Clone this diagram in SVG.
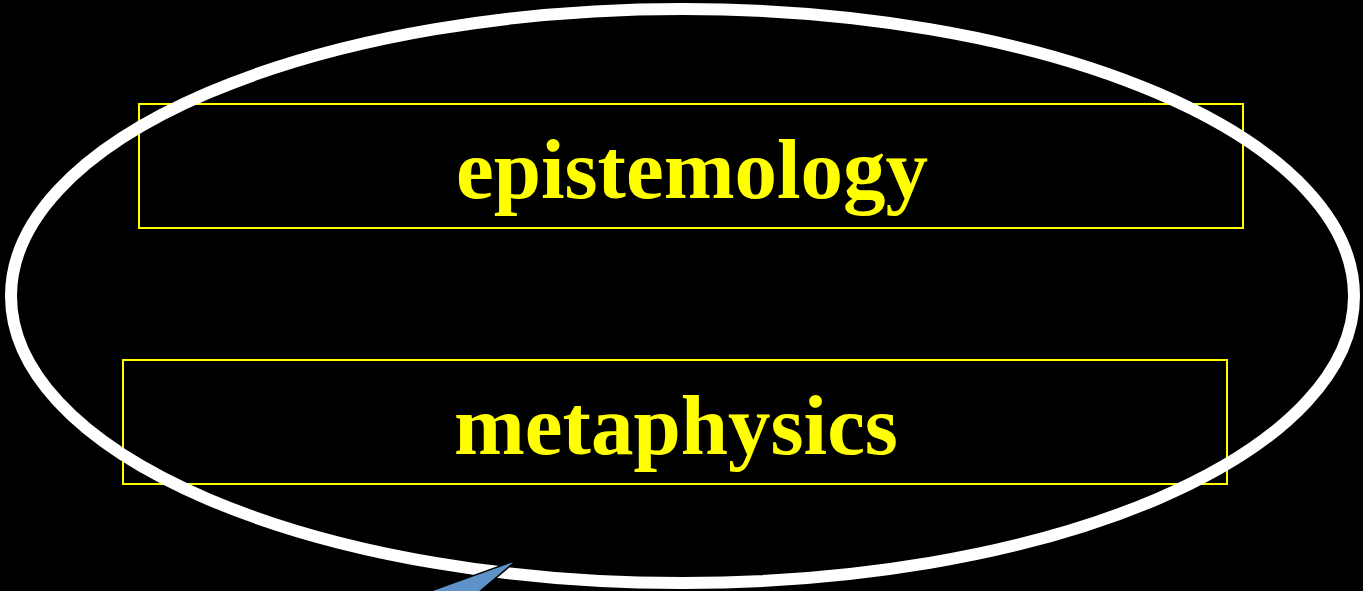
<svg xmlns="http://www.w3.org/2000/svg" width="1363" height="591" viewBox="0 0 1363 591">
<style>
.box{fill:none;stroke:#ffff00;stroke-width:2}
.lbl{font-family:"Liberation Serif","Times New Roman",serif;font-weight:bold;font-size:85px;fill:#ffff00;text-anchor:middle}
</style>
<rect width="1363" height="591" fill="#000"/>
<g id="node-epistemology">
<rect class="box" x="139" y="104" width="1104" height="124"/>
<text class="lbl" x="692" y="198">epistemology</text>
</g>
<g id="node-metaphysics">
<rect class="box" x="123" y="360" width="1104" height="124"/>
<text class="lbl" x="676" y="454">metaphysics</text>
</g>
<g id="callout">
<ellipse cx="682.5" cy="296" rx="671.5" ry="287" fill="none" stroke="#fff" stroke-width="12"/>
<polygon points="517,560 425,593 478,593" fill="#5f92c8" stroke="#000" stroke-width="1.5"/>
</g>
<g id="connectors"></g>
</svg>
